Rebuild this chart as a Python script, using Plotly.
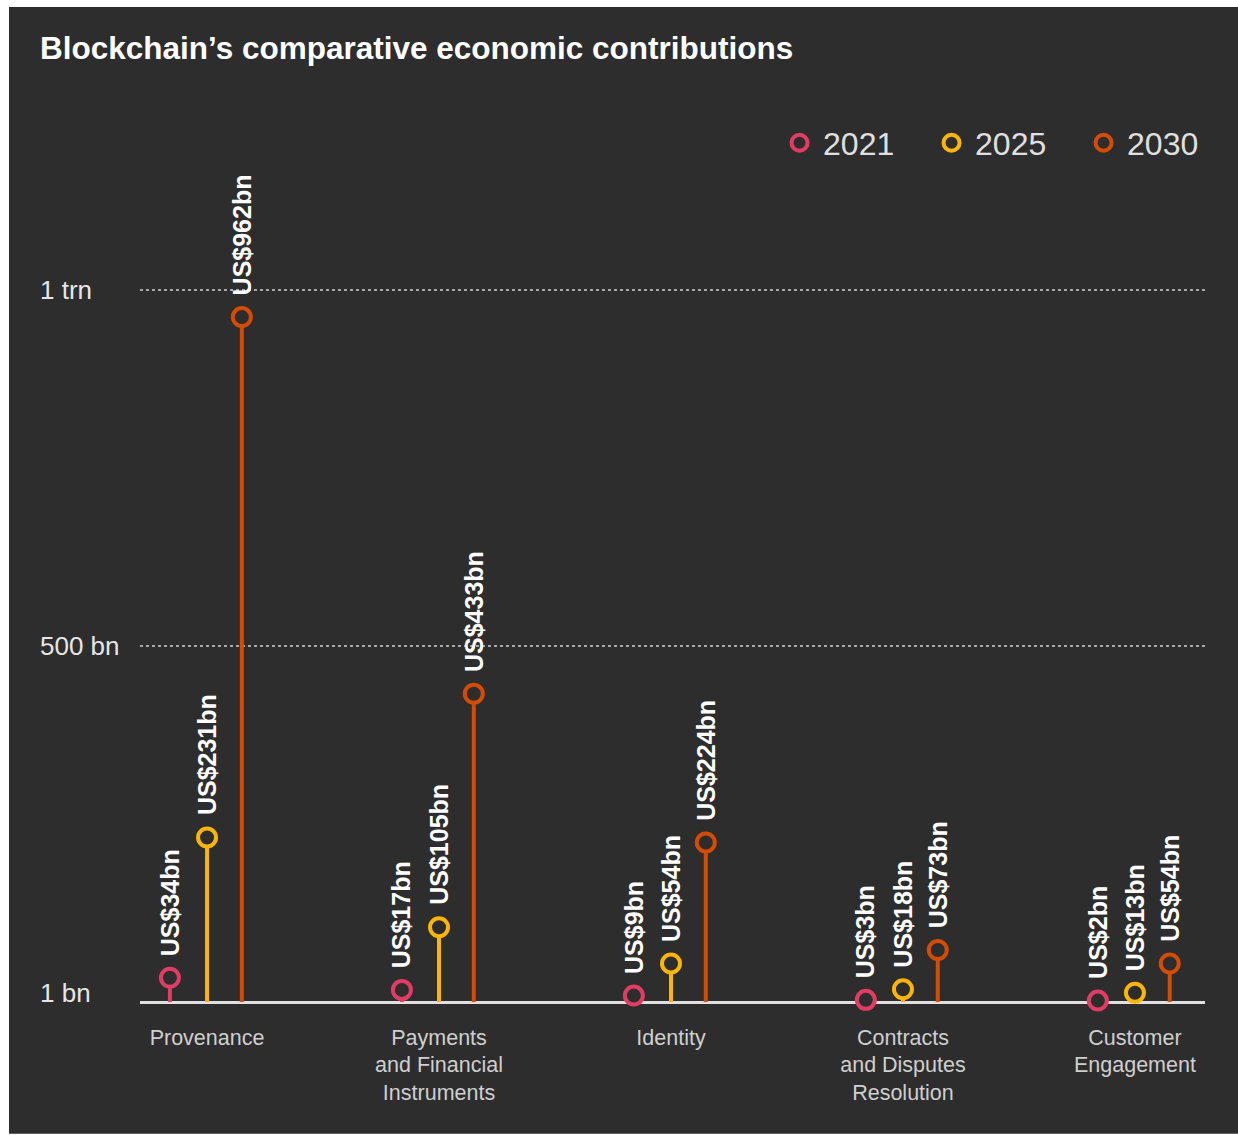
import plotly.graph_objects as go

categories = ["Provenance", "Payments<br>and Financial<br>Instruments", "Identity",
              "Contracts<br>and Disputes<br>Resolution", "Customer<br>Engagement"]
years = ["2021", "2025", "2030"]
values_2021 = [34, 17, 9, 3, 2]
values_2025 = [231, 105, 54, 18, 13]
values_2030 = [962, 433, 224, 73, 54]
y_tick_vals = [0, 500, 1000]
y_tick_text = ["1 bn", "500 bn", "1 trn"]

series = [values_2021, values_2025, values_2030]
colors = ["#df3d63", "#ffb600", "#d24c04"]
offsets = [-0.16, 0.0, 0.15]
BG = "#2d2d2d"
FONT = "Liberation Sans, Arial, Helvetica, sans-serif"

fig = go.Figure()

for yr, vals, col, off in zip(years, series, colors, offsets):
    xs, ys = [], []
    for i, v in enumerate(vals):
        xs += [i + off, i + off, None]
        ys += [0, v, None]
    fig.add_trace(go.Scatter(x=xs, y=ys, mode="lines", line=dict(color=col, width=4),
                             showlegend=False, hoverinfo="skip"))
    fig.add_trace(go.Scatter(x=[i + off for i in range(len(vals))], y=vals, mode="markers",
                             name=yr,
                             marker=dict(symbol="circle", size=18, color=BG,
                                         line=dict(color=col, width=4)),
                             cliponaxis=False))
    for i, v in enumerate(vals):
        fig.add_annotation(x=i + off, y=v, xref="x", yref="y", text=f"US${v}bn",
                           textangle=-90, showarrow=False, xanchor="center", yanchor="bottom",
                           yshift=20, font=dict(family=FONT, size=25, color="#ffffff", weight="bold"))

# y tick labels placed left-aligned as in the original
for v, t in zip(y_tick_vals, y_tick_text):
    fig.add_annotation(x=-0.0959, y=v, xref="paper", yref="y", text=t, showarrow=False,
                       xanchor="left", yanchor="middle", yshift=9 if v == 0 else 0,
                       font=dict(family=FONT, size=26, color="#e6e6e6"))

# dark panel
fig.add_shape(type="rect", xref="paper", yref="paper", x0=-0.123, x1=1.04, y0=-0.146, y1=1.1031,
              fillcolor=BG, line=dict(width=0), layer="below")

fig.update_layout(
    width=1238, height=1135,
    margin=dict(l=140, r=33, t=100, b=133, autoexpand=False),
    paper_bgcolor="#ffffff", plot_bgcolor="rgba(0,0,0,0)",
    font=dict(family=FONT, color="#e6e6e6"),
    title=dict(text="<b>Blockchain’s comparative economic contributions</b>",
               x=40 / 1238, xanchor="left", y=1 - 48 / 1135, yanchor="middle",
               font=dict(family=FONT, size=31.5, color="#ffffff")),
    legend=dict(orientation="h", x=1.0254, xanchor="right", y=(1002 - 143) / 902, yanchor="middle",
                font=dict(family=FONT, size=32, color="#e0e0e0"), bgcolor="rgba(0,0,0,0)",
                entrywidth=100, itemwidth=37),
    xaxis=dict(range=[-0.289, 4.302], tickmode="array", tickvals=list(range(len(categories))),
               ticktext=categories, showgrid=False, zeroline=False, showline=False,
               ticks="", ticklabelstandoff=20,
               tickfont=dict(family=FONT, size=21.5, color="#cfcfcf")),
    yaxis=dict(range=[0, 1266.9], tickmode="array", tickvals=[500, 1000], showticklabels=False,
               showgrid=True, gridcolor="#a8a8a8", gridwidth=2, griddash="dot",
               zeroline=True, zerolinecolor="#e0e0e0", zerolinewidth=3, showline=False),
)

fig.write_html("out.html", config={"displayModeBar": False},
               post_script="document.body.style.margin='0';")
